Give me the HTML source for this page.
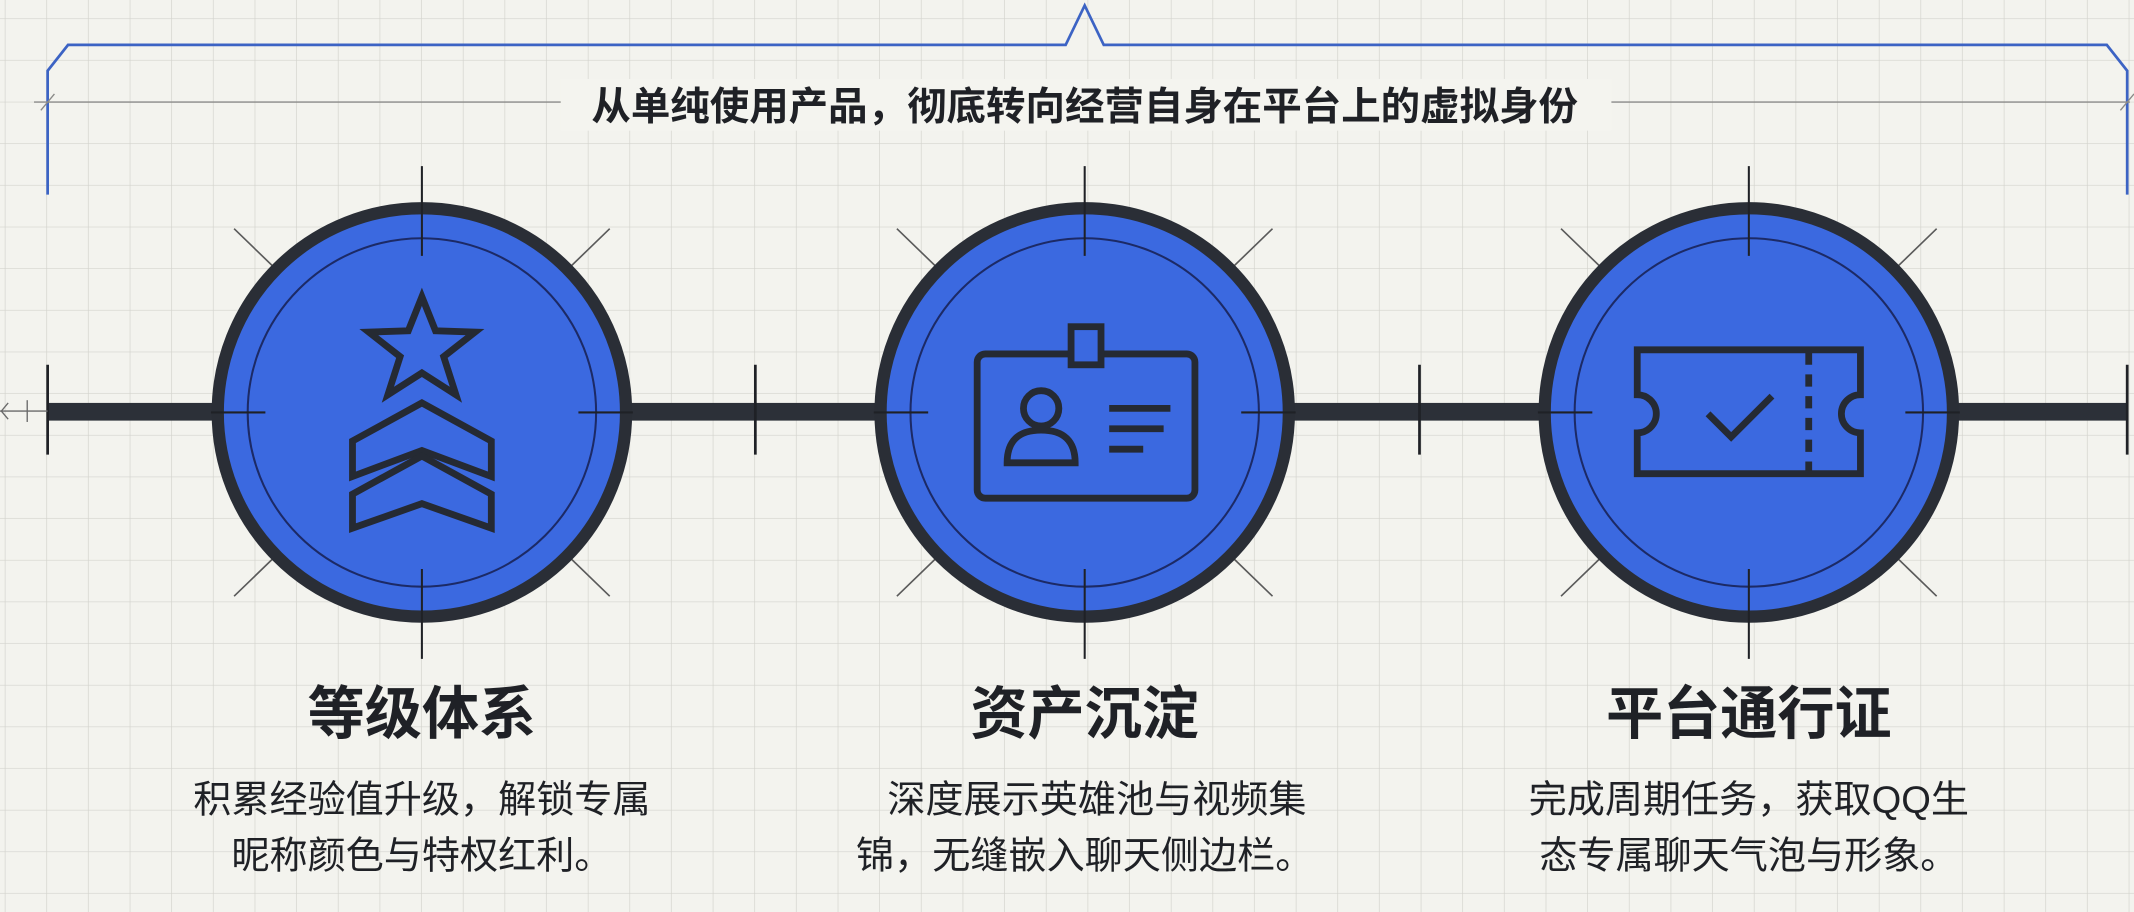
<!DOCTYPE html>
<html><head><meta charset="utf-8"><style>
html,body{margin:0;padding:0;background:#f3f3ee;}
svg{display:block;}
text{font-family:"Liberation Sans","Noto Sans CJK SC",sans-serif;fill:#1f2126;}
</style></head><body>
<svg width="2134" height="912" viewBox="0 0 1568 670" preserveAspectRatio="none" xmlns="http://www.w3.org/2000/svg">
<defs>
<pattern id="g" x="4" y="14" width="30.6" height="30.6" patternUnits="userSpaceOnUse">
<path d="M30.6 0V30.6M0 30.6H30.6" stroke="#d3d3cd" stroke-width="1" fill="none"/>
</pattern>
</defs>
<rect width="1568" height="670" fill="#f3f3ee"/>
<rect width="1568" height="670" fill="url(#g)"/>
<path d="M35 143 L35 52 L50 33 L783 33 L797 4 L811 33 L1548 33 L1563 52 L1563 143" fill="none" stroke="#3c63c4" stroke-width="2"/>
<line x1="25" y1="75" x2="1565" y2="75" stroke="#8a8a88" stroke-width="1"/>
<line x1="30" y1="81" x2="40" y2="69" stroke="#8a8a88" stroke-width="1"/>
<line x1="1558" y1="81" x2="1568" y2="69" stroke="#8a8a88" stroke-width="1"/>
<rect x="412" y="58" width="772" height="38" fill="#f4f4ef"/>
<text x="797" y="88" font-size="29" font-weight="bold" text-anchor="middle">从单纯使用产品，彻底转向经营自身在平台上的虚拟身份</text>
<rect x="35" y="296" width="1528" height="13" fill="#2c3038"/>
<g stroke="#1f2126" stroke-width="2">
<line x1="35" y1="268" x2="35" y2="334"/>
<line x1="555" y1="268" x2="555" y2="334"/>
<line x1="1043" y1="268" x2="1043" y2="334"/>
<line x1="1563" y1="268" x2="1563" y2="334"/>
</g>
<g stroke="#6a6a6a" stroke-width="1" fill="none">
<line x1="0" y1="302" x2="35" y2="302"/>
<line x1="20" y1="294" x2="20" y2="310"/>
<path d="M6 296 L1 302 L6 308"/>
</g>
<g id="c1">
<g stroke="#5a5a5a" stroke-width="1.2">
<line x1="172" y1="168" x2="203" y2="198"/><line x1="448" y1="168" x2="417" y2="198"/>
<line x1="172" y1="438" x2="203" y2="408"/><line x1="448" y1="438" x2="417" y2="408"/>
</g>
<circle cx="310" cy="303" r="150" fill="#3b69e0" stroke="#2a2e36" stroke-width="9"/>
<circle cx="310" cy="303" r="128" fill="none" stroke="#1c2a66" stroke-width="1.5"/>
<g stroke="#1f2126" stroke-width="1.5">
<line x1="310" y1="122" x2="310" y2="188"/><line x1="310" y1="418" x2="310" y2="484"/>
<line x1="155" y1="303" x2="195" y2="303"/><line x1="425" y1="303" x2="465" y2="303"/>
</g>
</g>
<g transform="translate(487,0)">
<g stroke="#5a5a5a" stroke-width="1.2">
<line x1="172" y1="168" x2="203" y2="198"/><line x1="448" y1="168" x2="417" y2="198"/>
<line x1="172" y1="438" x2="203" y2="408"/><line x1="448" y1="438" x2="417" y2="408"/>
</g>
<circle cx="310" cy="303" r="150" fill="#3b69e0" stroke="#2a2e36" stroke-width="9"/>
<circle cx="310" cy="303" r="128" fill="none" stroke="#1c2a66" stroke-width="1.5"/>
<g stroke="#1f2126" stroke-width="1.5">
<line x1="310" y1="122" x2="310" y2="188"/><line x1="310" y1="418" x2="310" y2="484"/>
<line x1="155" y1="303" x2="195" y2="303"/><line x1="425" y1="303" x2="465" y2="303"/>
</g>
</g>
<g transform="translate(975,0)">
<g stroke="#5a5a5a" stroke-width="1.2">
<line x1="172" y1="168" x2="203" y2="198"/><line x1="448" y1="168" x2="417" y2="198"/>
<line x1="172" y1="438" x2="203" y2="408"/><line x1="448" y1="438" x2="417" y2="408"/>
</g>
<circle cx="310" cy="303" r="150" fill="#3b69e0" stroke="#2a2e36" stroke-width="9"/>
<circle cx="310" cy="303" r="128" fill="none" stroke="#1c2a66" stroke-width="1.5"/>
<g stroke="#1f2126" stroke-width="1.5">
<line x1="310" y1="122" x2="310" y2="188"/><line x1="310" y1="418" x2="310" y2="484"/>
<line x1="155" y1="303" x2="195" y2="303"/><line x1="425" y1="303" x2="465" y2="303"/>
</g>
</g>
<g fill="none" stroke="#252a33" stroke-width="5" stroke-linejoin="miter">
<path d="M310 218 L320 243 L349 244 L326 262 L335 290 L310 274 L285 290 L294 262 L271 244 L300 243 Z"/>
<path d="M310 296 L259 324 L259 350 L310 331 L361 350 L361 324 Z"/>
<path d="M310 335 L259 363 L259 388 L310 370 L361 388 L361 363 Z"/>
</g>
<g fill="none" stroke="#252a33" stroke-width="5">
<rect x="718" y="260" width="160" height="106" rx="6"/>
<rect x="787" y="240" width="22" height="28" fill="#3b69e0"/>
<circle cx="765" cy="300" r="13"/>
<path d="M740 340 Q740 316 765 316 Q790 316 790 340 Z"/>
<line x1="815" y1="300" x2="860" y2="300"/>
<line x1="815" y1="315" x2="855" y2="315"/>
<line x1="815" y1="330" x2="840" y2="330"/>
</g>
<g fill="none" stroke="#252a33" stroke-width="5">
<path d="M1203 257 L1367 257 L1367 290 A14 14 0 0 0 1367 318 L1367 348 L1203 348 L1203 318 A14 14 0 0 0 1203 290 Z"/>
<path d="M1255 304 L1272 321 L1302 291"/>
<line x1="1329" y1="259" x2="1329" y2="346" stroke-dasharray="9 7"/>
</g>
<g text-anchor="middle">
<text x="310" y="539" font-size="42" font-weight="bold">等级体系</text>
<text x="797" y="539" font-size="42" font-weight="bold">资产沉淀</text>
<text x="1285" y="539" font-size="42" font-weight="bold">平台通行证</text>
<text x="310" y="597" font-size="28">积累经验值升级，解锁专属</text>
<text x="310" y="638" font-size="28">昵称颜色与特权红利。</text>
<text x="806" y="597" font-size="28">深度展示英雄池与视频集</text>
<text x="797" y="638" font-size="28">锦，无缝嵌入聊天侧边栏。</text>
<text x="1285" y="597" font-size="28">完成周期任务，获取QQ生</text>
<text x="1285" y="638" font-size="28">态专属聊天气泡与形象。</text>
</g>
</svg>
</body></html>
